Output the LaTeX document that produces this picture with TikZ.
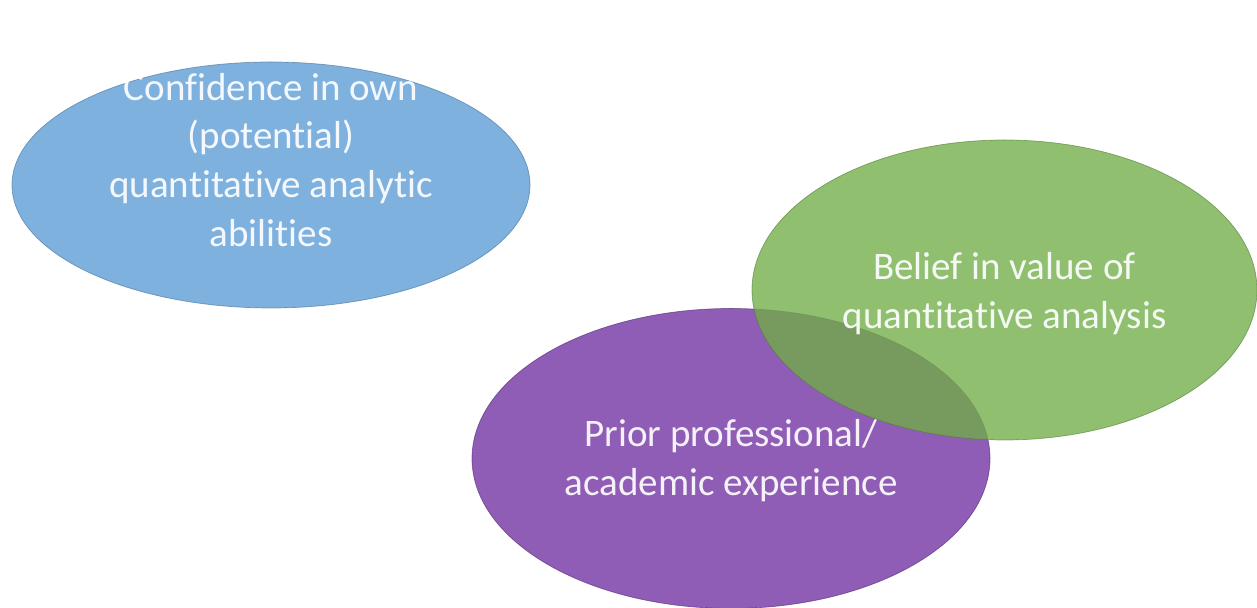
\documentclass[tikz,border=0pt]{standalone}
\usepackage{fontspec}
\setmainfont{Carlito}[Ligatures=NoCommon]
\usepackage{tikz}
\usetikzlibrary{shapes.geometric, positioning}

\definecolor{blobblue}{HTML}{5B9BD5}
\definecolor{blobgreen}{HTML}{70AD47}
\definecolor{blobpurple}{HTML}{7030A0}

\tikzset{
  blob/.style={ellipse, inner sep=0pt, fill opacity=0.78, draw opacity=0.6, line width=0.4pt},
  blobtext/.style={text=white, text opacity=0.92, align=center, font=\fontsize{22.2}{27.8}\selectfont},
}

\begin{document}
\begin{tikzpicture}[node distance=2cm, on grid]
        \useasboundingbox (0,0) rectangle (25.14,12.16);
        \node[blob, fill=blobblue, draw=blobblue!70!black, minimum width=10.36cm, minimum height=4.92cm,
              label={[blobtext, yshift=0.5cm]center:Confidence in own\\(potential)\\quantitative analytic\\abilities}]
              (conf) at (5.42,8.46) {};
        \node[blob, fill=blobpurple, draw=blobpurple!70!black, minimum width=10.36cm, minimum height=6cm,
              label={[blobtext, yshift=-0.05cm]center:Prior professional/\\academic experience}]
              (prior) [below right=5.47cm and 9.2cm of conf] {};
        \node[blob, fill=blobgreen, draw=blobgreen!70!black, minimum width=10.1cm, minimum height=6cm,
              label={[blobtext, yshift=-0.08cm]center:Belief in value of\\quantitative analysis}]
              (belief) [above right=3.37cm and 5.47cm of prior] {};
    \end{tikzpicture}
\end{document}
